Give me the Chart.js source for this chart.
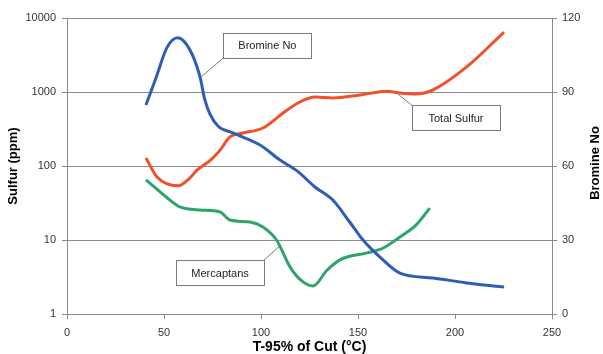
<!DOCTYPE html>
<html>
<head>
<meta charset="utf-8">
<script src="https://cdn.jsdelivr.net/npm/chart.js@4"></script>
<style>
  html, body { margin: 0; padding: 0; background: #fff; }
  #wrap { width: 603px; height: 354px; }
</style>
</head>
<body>
<div id="wrap"><canvas id="myChart" width="603" height="354"></canvas></div>
<script>
// T-95% of cut (°C) and values
let bromine_x = [40.7, 46, 51.5, 57, 63.4, 68.6, 71, 73.7, 77.8, 85.6, 99.5, 109.8, 118.6, 127.8, 137, 146, 152.6, 161.3, 171.6, 188.7, 206, 225.3];
let bromine_y = [84.7, 96, 108, 112, 107, 96, 87, 81, 76.2, 73.4, 68.5, 62.4, 58, 51.5, 46.2, 37, 30, 23.1, 16.6, 14.6, 12.6, 10.9];

let sulfur_x = [40.7, 46.4, 57.2, 63.4, 67, 74, 78.9, 84, 90.7, 101, 111.4, 120, 127.8, 137, 151, 165, 171.6, 180, 188.7, 206, 225.3];
let sulfur_y = [128, 71, 54, 69, 88, 120, 164, 247, 279, 326, 520, 733, 855, 830, 910, 1025, 970, 940, 1070, 2180, 6460];

let merc_x = [40.7, 48, 53, 58.2, 68.6, 78.9, 84, 94.3, 101, 108, 115, 121, 126.8, 134, 140.7, 154.6, 163, 171.6, 180, 187];
let merc_y = [65, 44.6, 34.7, 28, 25.4, 23.9, 18.6, 17.5, 15, 10, 4.3, 2.8, 2.39, 3.9, 5.4, 6.7, 7.8, 11, 16, 27];

let x_ticks = [0, 50, 100, 150, 200, 250];
let sulfur_ticks = [1, 10, 100, 1000, 10000];
let bromine_ticks = [0, 30, 60, 90, 120];

// callouts: label, box centre (x, bromine units), leader end (x, bromine units)
let callouts = [
  { text: 'Bromine No', cx: 103.3, cy: 108.9, ax: 69.1, ay: 96.1, corner: 'bl' },
  { text: 'Total Sulfur', cx: 200.5, cy: 79.5, ax: 170.6, ay: 89.2, corner: 'tl' },
  { text: 'Mercaptans', cx: 78.9, cy: 16.8, ax: 109.8, ay: 27.6, corner: 'tr' }
];

function pairs(xs, ys) {
  return xs.map(function(x, i) { return { x: x, y: ys[i] }; });
}

const FONT = '"Liberation Sans", Arial, sans-serif';
const GRID = '#8a8a8a';

const calloutPlugin = {
  id: 'callouts',
  afterDatasetsDraw(chart) {
    const ctx = chart.ctx;
    const xs = chart.scales.x, ys = chart.scales.y1;
    ctx.save();
    callouts.forEach(function(c) {
      const w = 88, h = 25;
      const cx = xs.getPixelForValue(c.cx), cy = ys.getPixelForValue(c.cy);
      const l = cx - w / 2, t = cy - h / 2;
      let sx = l, sy = t + h;
      if (c.corner === 'tl') { sx = l; sy = t; }
      if (c.corner === 'tr') { sx = l + w; sy = t; }
      ctx.strokeStyle = '#7a7a7a';
      ctx.lineWidth = 1;
      ctx.beginPath();
      ctx.moveTo(sx, sy);
      ctx.lineTo(xs.getPixelForValue(c.ax), ys.getPixelForValue(c.ay));
      ctx.stroke();
      ctx.fillStyle = '#fff';
      ctx.fillRect(l, t, w, h);
      ctx.strokeRect(Math.round(l) + 0.5, Math.round(t) + 0.5, w, h);
      ctx.fillStyle = '#222';
      ctx.font = '11px ' + FONT;
      ctx.textAlign = 'center';
      ctx.textBaseline = 'middle';
      ctx.fillText(c.text, cx, cy + 1);
    });
    // right axis title reads bottom to top
    const area = chart.chartArea;
    ctx.translate(595, (area.top + area.bottom) / 2 - 3);
    ctx.rotate(-Math.PI / 2);
    ctx.fillStyle = '#000';
    ctx.font = 'bold 13px ' + FONT;
    ctx.textAlign = 'center';
    ctx.textBaseline = 'middle';
    ctx.fillText('Bromine No', 0, 0);
    ctx.restore();
  }
};

let config = {
  type: 'line',
  data: {
    datasets: [
      {
        label: 'Bromine No',
        data: pairs(bromine_x, bromine_y),
        yAxisID: 'y1',
        borderColor: '#2f5db3',
        borderWidth: 3,
        pointRadius: 0,
        cubicInterpolationMode: 'monotone',
        fill: false
      },
      {
        label: 'Total Sulfur',
        data: pairs(sulfur_x, sulfur_y),
        yAxisID: 'y',
        borderColor: '#f0502c',
        borderWidth: 3,
        pointRadius: 0,
        cubicInterpolationMode: 'monotone',
        fill: false
      },
      {
        label: 'Mercaptans',
        data: pairs(merc_x, merc_y),
        yAxisID: 'y',
        borderColor: '#2ea36b',
        borderWidth: 3,
        pointRadius: 0,
        cubicInterpolationMode: 'monotone',
        fill: false
      }
    ]
  },
  options: {
    responsive: false,
    animation: false,
    layout: { padding: { top: 18, right: 0, bottom: 0, left: 0 } },
    plugins: {
      legend: { display: false },
      tooltip: { enabled: false }
    },
    scales: {
      x: {
        type: 'linear',
        min: 0,
        max: 250,
        afterBuildTicks: function(scale) { scale.ticks = x_ticks.map(function(v) { return { value: v }; }); },
        afterFit: function(scale) { scale.height = 40; },
        grid: { drawOnChartArea: false, drawTicks: true, tickLength: 5, tickColor: GRID },
        border: { color: GRID, width: 1 },
        ticks: { color: '#333', font: { family: FONT, size: 11 }, padding: 7, maxRotation: 0 },
        title: {
          display: true,
          text: 'T-95% of Cut (°C)',
          color: '#000',
          font: { family: FONT, size: 14, weight: 'bold', lineHeight: 1 },
          padding: { top: 0, bottom: 0 }
        }
      },
      y: {
        type: 'logarithmic',
        position: 'left',
        min: 1,
        max: 10000,
        afterBuildTicks: function(scale) { scale.ticks = sulfur_ticks.map(function(v) { return { value: v }; }); },
        afterFit: function(scale) { scale.width = 67; },
        grid: { color: GRID, drawTicks: true, tickLength: 5, tickColor: GRID },
        border: { color: GRID, width: 1 },
        ticks: {
          color: '#333',
          font: { family: FONT, size: 11 },
          padding: 6,
          callback: function(v) { return String(v); }
        },
        title: {
          display: true,
          text: 'Sulfur (ppm)',
          color: '#000',
          font: { family: FONT, size: 13, weight: 'bold' },
          padding: { top: 6, bottom: 0 }
        }
      },
      y1: {
        type: 'linear',
        position: 'right',
        min: 0,
        max: 120,
        afterBuildTicks: function(scale) { scale.ticks = bromine_ticks.map(function(v) { return { value: v }; }); },
        afterFit: function(scale) { scale.width = 51; },
        grid: { drawOnChartArea: false, drawTicks: true, tickLength: 5, tickColor: GRID },
        border: { color: GRID, width: 1 },
        ticks: { color: '#333', font: { family: FONT, size: 11 }, padding: 5 }
      }
    }
  },
  plugins: [calloutPlugin]
};

let myChart = new Chart(document.getElementById('myChart'), config);
</script>
</body>
</html>
